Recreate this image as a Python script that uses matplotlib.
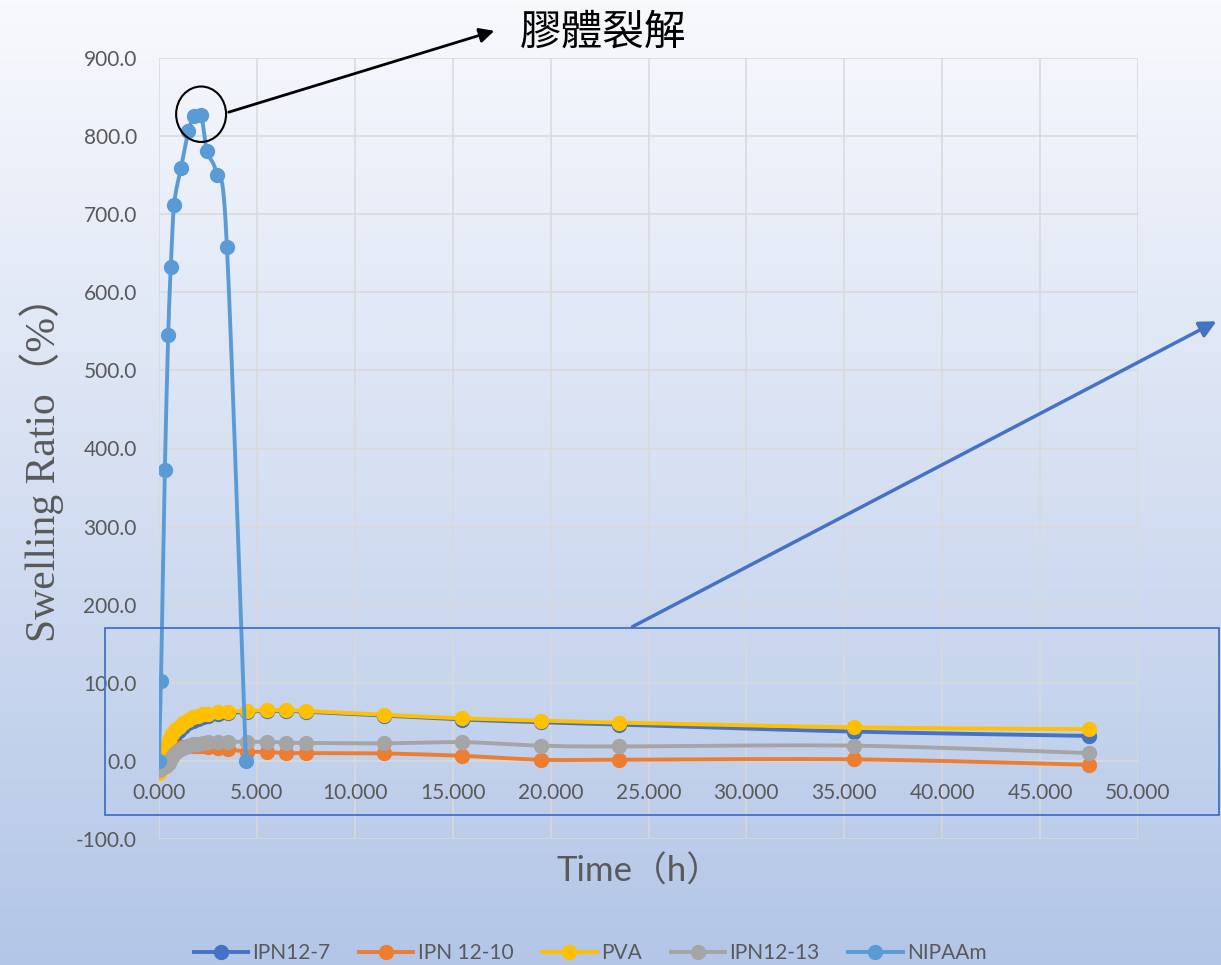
import numpy as np
import matplotlib.pyplot as plt
from matplotlib.patches import Ellipse, Rectangle, FancyArrowPatch

plt.rcParams['font.family'] = ['Lato', 'Noto Sans CJK TC', 'DejaVu Sans']

# 時間 (h)
t_gel = [0, 0.167, 0.333, 0.5, 0.667, 0.833, 1.0, 1.25, 1.5, 1.75, 2.0, 2.25, 2.5, 3.0,
         3.5, 4.5, 5.5, 6.5, 7.5, 11.5, 15.5, 19.5, 23.5, 35.5, 47.5]
t_nipaam = [0, 0.1, 0.3, 0.47, 0.6, 0.77, 1.12, 1.5, 1.8, 2.15, 2.45, 2.96, 3.47, 4.44]

# 膨潤度 (%)
ipn12_7 = [0, 5, 12, 20, 27, 33, 38, 44, 48, 51, 54, 56, 58, 60,
           61, 63, 64, 64, 63, 58, 53, 49.5, 46.5, 37.5, 32]
ipn12_10 = [0, 2, 5, 8, 11, 14, 16, 18, 19, 19.5, 19, 18.5, 18, 17,
            15, 12, 11.5, 10, 10, 9.5, 6.5, 1.5, 1.5, 2, -5]
pva = [-15, 5, 18, 27, 34, 40, 44, 49, 53, 56, 58, 59.5, 60.5, 62,
       63, 64, 65, 65, 64, 59, 54.5, 51.5, 49, 43, 40.5]
ipn12_13 = [-12, -9, -6, -3, 5, 10, 14, 17, 19, 21, 22, 23, 24, 24.5,
            24.5, 24.5, 24.5, 23.5, 23, 22.5, 24, 19.5, 18.5, 19.5, 10]
nipaam = [0, 102, 373, 545, 632, 712, 759, 806, 826, 827, 781, 750, 658, 0]

labels = ['IPN12-7', 'IPN 12-10', 'PVA', 'IPN12-13', 'NIPAAm']
colors = ['#4472c4', '#ed7d31', '#ffc000', '#a5a5a5', '#5b9bd5']
x_ticks = np.arange(0, 50.1, 5)
y_ticks = np.arange(-100, 900.1, 100)


def smooth(ax, x, y, n=30):
    # 在螢幕座標上做 Catmull-Rom 平滑
    p = ax.transData.transform(np.column_stack([x, y]))
    p = np.vstack([p[0], p, p[-1]])
    out = []
    for i in range(1, len(p) - 2):
        p0, p1, p2, p3 = p[i - 1], p[i], p[i + 1], p[i + 2]
        c1 = p1 + (p2 - p0) / 6
        c2 = p2 - (p3 - p1) / 6
        s = np.linspace(0, 1, n)[:, None]
        seg = ((1 - s) ** 3) * p1 + 3 * ((1 - s) ** 2) * s * c1 + 3 * (1 - s) * s ** 2 * c2 + s ** 3 * p2
        out.append(seg)
    out = np.vstack(out)
    d = ax.transData.inverted().transform(out)
    return d[:, 0], d[:, 1]


fig = plt.figure(figsize=(12.21, 9.65), dpi=100)

# 背景漸層
bg = fig.add_axes([0, 0, 1, 1], zorder=-10)
top = np.array([248, 249, 253]) / 255
bot = np.array([179, 198, 231]) / 255
g = np.linspace(0, 1, 256)[:, None]
grad = (top[None, :] * (1 - g) + bot[None, :] * g)[:, None, :]
bg.imshow(grad, aspect='auto', extent=[0, 1, 0, 1])
bg.axis('off')

ax = fig.add_axes([159 / 1221, 1 - 839 / 965, 979 / 1221, 781 / 965])
ax.patch.set_alpha(0)
ax.set_xlim(0, 50)
ax.set_ylim(-100, 900)
ax.set_xticks(x_ticks)
ax.set_yticks(y_ticks)
ax.set_xticklabels(['%.3f' % v for v in x_ticks])
ax.set_yticklabels(['%.1f' % v for v in y_ticks])
ax.grid(True, color='#d9d9d9', lw=1.1)
ax.set_axisbelow(True)
for s in ['top', 'right', 'left']:
    ax.spines[s].set_visible(False)
ax.spines['bottom'].set_position(('data', 0))
ax.spines['bottom'].set_color('#d9d9d9')
ax.spines['bottom'].set_linewidth(1.1)
ax.tick_params(axis='x', length=0, pad=16, labelsize=15, labelcolor='#595959')
ax.tick_params(axis='y', length=0, pad=16, labelsize=15, labelcolor='#595959')

series = [(t_gel, ipn12_7), (t_gel, ipn12_10), (t_gel, pva), (t_gel, ipn12_13), (t_nipaam, nipaam)]
for (x, y), lab, c in zip(series, labels, colors):
    sx, sy = smooth(ax, x, y)
    ax.plot(sx, sy, color=c, lw=2.8, solid_capstyle='round', zorder=3)
    ax.plot(x, y, 'o', color=c, ms=10, zorder=3)
    ax.plot([], [], '-o', color=c, lw=2.8, ms=10, label=lab)

# 標示膠體裂解
ax.add_patch(Ellipse((2.15, 828), 2.55, 71, fill=False, ec='black', lw=1.5, zorder=4))
fig.patches.append(FancyArrowPatch((226 / 1221, 1 - 113 / 965), (497 / 1221, 1 - 30 / 965),
                                   transform=fig.transFigure, arrowstyle='-|>', mutation_scale=22,
                                   color='black', lw=2))
fig.text(520 / 1221, 1 - 33 / 965, '膠體裂解', fontsize=30, family=['Noto Sans CJK TC'],
         ha='left', va='center', color='black')

# 放大框與箭頭
fig.patches.append(Rectangle((105 / 1221, 1 - 815 / 965), 1114 / 1221, 187 / 965,
                             transform=fig.transFigure, fill=False, ec='#4472c4', lw=1.3))
fig.patches.append(FancyArrowPatch((630 / 1221, 1 - 628 / 965), (1219 / 1221, 1 - 320 / 965),
                                   transform=fig.transFigure, arrowstyle='-|>', mutation_scale=25,
                                   color='#4472c4', lw=2.5))

fig.text(42 / 1221, 1 - 459 / 965, 'Swelling Ratio（%）', rotation=90, fontsize=30,
         family=['Liberation Serif', 'Noto Sans CJK TC'], color='#595959', ha='center', va='center')
fig.text(639 / 1221, 1 - 871 / 965, 'Time（h）', fontsize=25, color='#595959',
         ha='center', va='center')

fig.legend(loc='center', bbox_to_anchor=(590 / 1221, 1 - 953 / 965), ncol=5, frameon=False,
           fontsize=15, labelcolor='#595959', handlelength=2.6, handletextpad=0.2,
           columnspacing=1.4)

fig.savefig('out.png', dpi=100)
